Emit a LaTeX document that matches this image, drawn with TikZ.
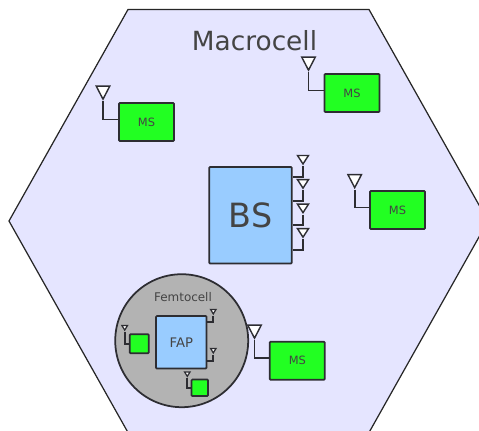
\documentclass[tikz,border=0pt]{standalone}
\usepackage{fontspec}
\usepackage{xcolor}
\usetikzlibrary{shapes.geometric}
\setmainfont{DejaVu Sans}
\definecolor{cellbg}{RGB}{229,229,255}
\definecolor{msgreen}{RGB}{34,255,34}
\definecolor{bsblue}{RGB}{153,204,255}
\definecolor{femtogray}{RGB}{179,179,179}
\definecolor{edge}{RGB}{45,45,50}
\definecolor{labeltxt}{RGB}{68,68,68}
\tikzstyle{msbox}=[rectangle, rounded corners=0.5pt, draw=edge, fill=msgreen,
  line width=1pt, font=\fontsize{6.5}{8}\selectfont, text=labeltxt,
  minimum width=1.1cm, minimum height=0.76cm, inner sep=0pt]
\tikzstyle{bsbox}=[rectangle, rounded corners=0.5pt, draw=edge, fill=bsblue,
  line width=1pt, text=labeltxt, inner sep=0pt]
\tikzstyle{ueb}=[rectangle, rounded corners=0.5pt, draw=edge, fill=msgreen,
  line width=1pt, inner sep=0pt]
\tikzstyle{ant}=[isosceles triangle, isosceles triangle stretches,
  shape border rotate=-90, draw=edge, fill=white, line width=0.8pt, inner sep=0pt,
  anchor=apex, minimum width=0.27cm, minimum height=0.26cm]
\tikzstyle{antbs}=[ant, minimum width=0.22cm, minimum height=0.17cm]
\tikzstyle{antf}=[ant, minimum width=0.11cm, minimum height=0.09cm, line width=0.7pt]
\tikzstyle{wire}=[draw=edge, line width=1pt]
\begin{document}
\begin{tikzpicture}[x=0.02cm, y=-0.02cm]
    \useasboundingbox (0,0) rectangle (479,430);
    \clip (0,0) rectangle (479,430);
    \fill[white] (0,0) rectangle (479,430);
    % cell
    \draw[fill=cellbg, draw=black!85, line width=0.7pt]
      (128,9.5) -- (369,9.5) -- (488,221) -- (369,432.5) -- (128,432.5) -- (9,221) -- cycle;
    \node[font=\fontsize{15}{18}\selectfont, text=labeltxt] (macro) at (254.5,41) {Macrocell};
    % base station
    \node[bsbox, minimum width=1.65cm, minimum height=1.93cm,
      font=\fontsize{19}{22}\selectfont] (bs) at (250.5,215.3) {BS};
    \node[antbs] (a1) at (303,165.8) {};
    \node[antbs] (a2) at (303,190) {};
    \node[antbs] (a3) at (303,214.5) {};
    \node[antbs] (a4) at (303,239) {};
    \draw[wire] (a1.apex) |- ([yshift=0.77cm]bs.east);
    \draw[wire] (a2.apex) |- ([yshift=0.286cm]bs.east);
    \draw[wire] (a3.apex) |- ([yshift=-0.2cm]bs.east);
    \draw[wire] (a4.apex) |- ([yshift=-0.688cm]bs.east);
    % mobiles
    \node[msbox] (ms1) at (146.5,122) {MS};
    \node[ant] (m1) at (103,101) {};
    \draw[wire] (m1.apex) |- ([yshift=0.05cm]ms1.west);
    \node[msbox] (ms2) at (352,93) {MS};
    \node[ant] (m2) at (308.5,72) {};
    \draw[wire] (m2.apex) |- ([yshift=0.05cm]ms2.west);
    \node[msbox] (ms3) at (397.5,210) {MS};
    \node[ant] (m3) at (354.7,189.5) {};
    \draw[wire] (m3.apex) |- ([yshift=0.05cm]ms3.west);
    \node[msbox] (ms4) at (297.3,360.7) {MS};
    \node[ant] (m4) at (254.5,340) {};
    \draw[wire] (m4.apex) |- ([yshift=0.05cm]ms4.west);
    % femtocell
    \node[circle, draw=edge, fill=femtogray, line width=1pt, minimum size=2.66cm,
      inner sep=0pt] (femto) at (181.7,340.7) {};
    \node[font=\fontsize{6.8}{8}\selectfont, text=labeltxt] (ftxt) at (183,297) {Femtocell};
    \node[bsbox, minimum width=1.01cm, minimum height=1.05cm,
      font=\fontsize{7.5}{9}\selectfont] (fap) at (181.3,342.3) {FAP};
    \node[antf] (f1) at (213.3,315.5) {};
    \node[antf] (f2) at (213.3,354.5) {};
    \draw[wire] (f1.apex) |- ([yshift=0.406cm]fap.east);
    \draw[wire] (f2.apex) |- ([yshift=-0.368cm]fap.east);
    \node[ueb, minimum size=0.38cm] (ue1) at (139.3,343.7) {};
    \node[antf] (f3) at (124.7,331.7) {};
    \draw[wire] (f3.apex) |- (ue1.west);
    \node[ueb, minimum size=0.33cm] (ue2) at (199.8,387.8) {};
    \node[antf] (f4) at (187.3,378) {};
    \draw[wire] (f4.apex) |- (ue2.west);
\end{tikzpicture}
\end{document}
